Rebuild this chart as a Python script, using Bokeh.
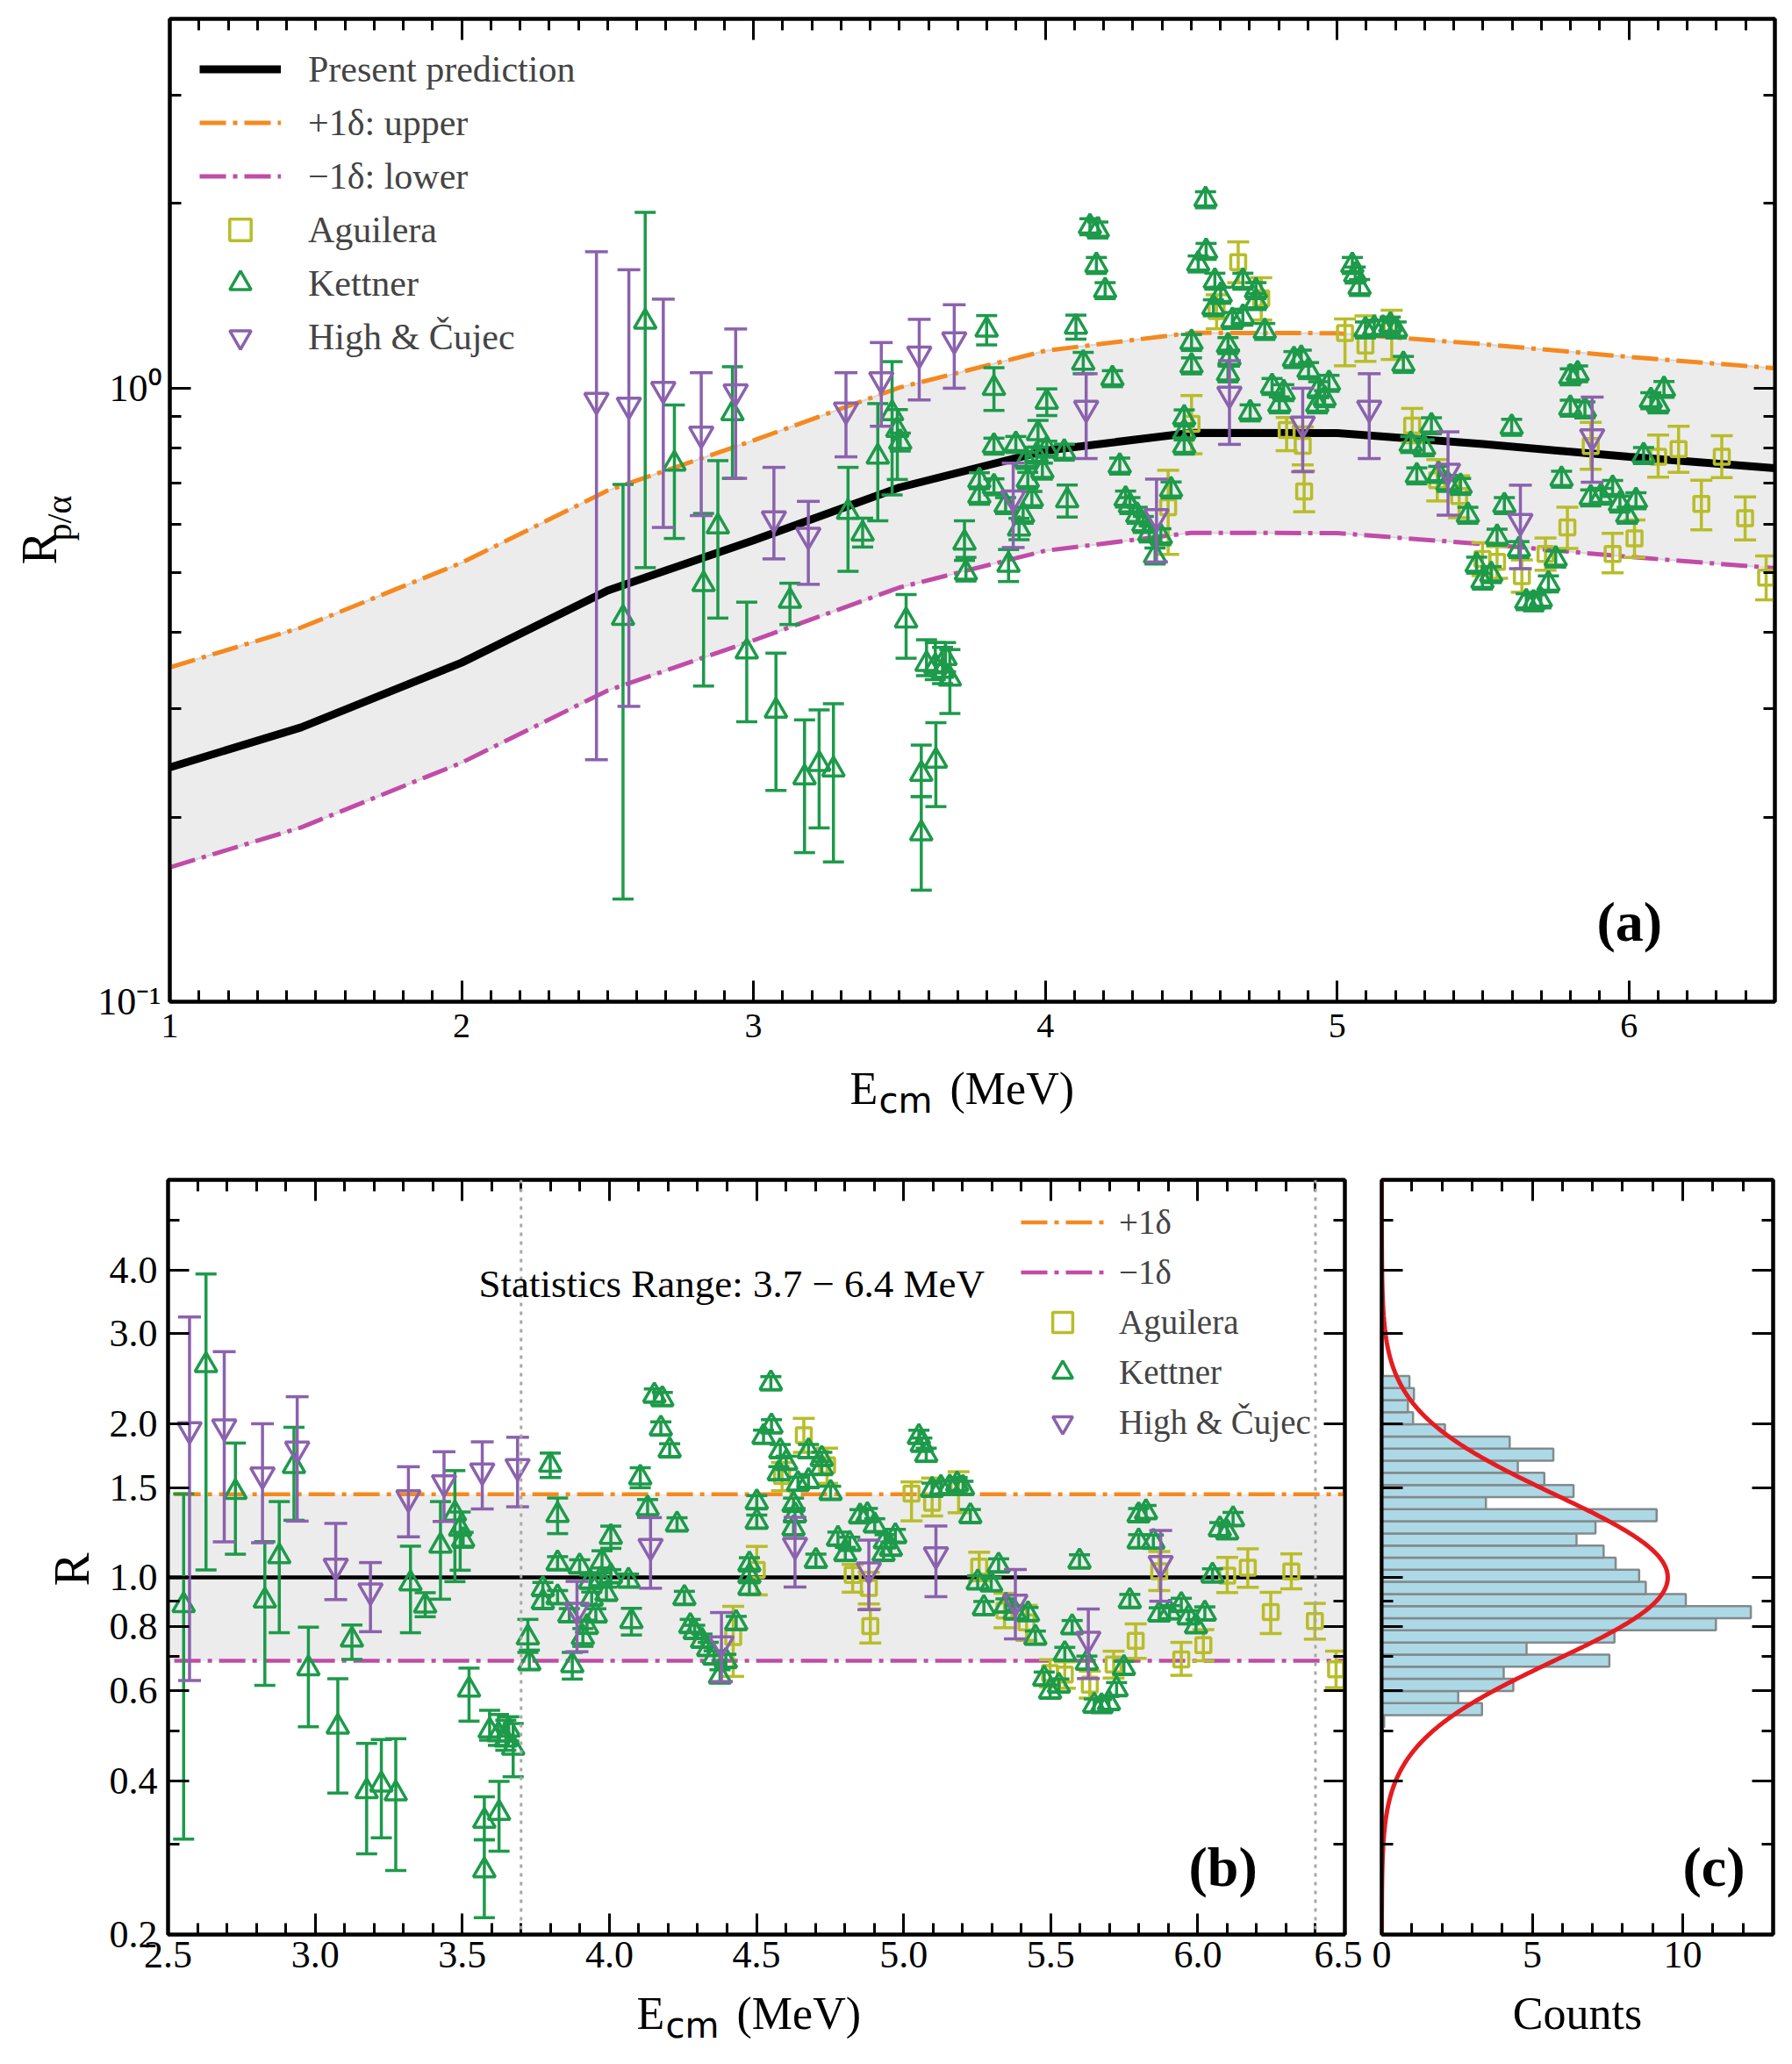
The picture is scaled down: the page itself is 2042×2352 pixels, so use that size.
import numpy as np
from bokeh.plotting import figure
from bokeh.models import (ColumnDataSource, Legend, LegendItem, Label, FixedTicker,
                          LinearAxis, LogAxis, Range1d, PrintfTickFormatter, Span,
                          CustomJSTickFormatter)
from bokeh.layouts import column, row
from bokeh.embed import file_html
from bokeh.resources import INLINE

SERIF = "Liberation Serif"
SANS = "DejaVu Sans"

# ---------------- data ----------------
# present prediction (R_p/alpha) nodes
pred_x = [1.0, 1.45, 2.0, 2.5, 3.0, 3.5, 4.0, 4.5, 5.0, 5.5, 6.0, 6.5]
pred_y = [0.241, 0.280, 0.357, 0.468, 0.565, 0.689, 0.791, 0.846, 0.845, 0.811, 0.773, 0.741]
DELTA_UP = 1.455
DELTA_LO = 0.687

# Aguilera
agu_x = [4.421, 4.501, 4.587, 4.661, 4.740, 4.827, 4.882, 4.887, 5.027, 5.097, 5.187, 5.257, 5.343, 5.418,
         5.498, 5.548, 5.633, 5.714, 5.789, 5.869, 5.944, 6.019, 6.100, 6.170, 6.248, 6.318, 6.398, 6.470]
agu_y = [0.640, 0.875, 1.336, 1.605, 1.401, 0.855, 0.806, 0.679, 1.230, 1.174, 1.253, 0.869, 0.708, 0.667,
         0.527, 0.521, 0.494, 0.537, 0.593, 0.805, 0.537, 0.569, 0.773, 0.796, 0.648, 0.773, 0.614, 0.491]
agu_lo = [0.536, 0.782, 1.250, 1.486, 1.292, 0.791, 0.750, 0.629, 1.088, 1.106, 1.114, 0.815, 0.655, 0.615,
          0.495, 0.490, 0.465, 0.505, 0.548, 0.738, 0.500, 0.530, 0.716, 0.729, 0.588, 0.715, 0.566, 0.452]
agu_hi = [0.735, 0.973, 1.420, 1.732, 1.514, 0.896, 0.865, 0.733, 1.297, 1.312, 1.340, 0.927, 0.765, 0.720,
          0.560, 0.552, 0.525, 0.570, 0.640, 0.880, 0.580, 0.610, 0.839, 0.867, 0.708, 0.837, 0.665, 0.533]

# Kettner, low energy part (explicit error limits)
ketA_x = [2.553, 2.629, 2.729, 2.829, 2.878, 2.928, 2.977, 3.077, 3.125, 3.175, 3.225, 3.274, 3.324, 3.374,
          3.426, 3.475, 3.493, 3.503, 3.523, 3.575, 3.575, 3.593, 3.623, 3.625, 3.648, 3.658, 3.673, 3.723, 3.728]
ketA_y = [0.422, 1.283, 0.753, 0.479, 0.595, 0.910, 0.372, 0.298, 0.450, 0.232, 0.244, 0.239, 0.628, 0.579,
          0.773, 0.910, 0.855, 0.817, 0.418, 0.235, 0.188, 0.355, 0.352, 0.247, 0.346, 0.363, 0.336, 0.560, 0.500]
ketA_lo = [0.147, 0.510, 0.569, 0.327, 0.422, 0.713, 0.286, 0.221, 0.412, 0.175, 0.192, 0.169, 0.503, 0.551,
           0.608, 0.670, 0.710, 0.790, 0.363, 0.216, 0.152, 0.340, 0.335, 0.208, 0.330, 0.345, 0.295, 0.524, 0.485]
ketA_hi = [0.697, 1.935, 0.939, 0.625, 0.762, 1.084, 0.448, 0.370, 0.481, 0.288, 0.299, 0.306, 0.743, 0.614,
           0.944, 1.105, 0.923, 0.845, 0.461, 0.262, 0.216, 0.389, 0.385, 0.285, 0.378, 0.385, 0.375, 0.608, 0.530]

# Kettner, high energy part (relative error)
ketB_x = [3.774, 3.774, 3.799, 3.824, 3.824, 3.824, 3.864, 3.874, 3.899, 3.910, 3.924, 3.934, 3.940, 3.954,
          3.970, 3.975, 3.990, 4.005, 4.005, 4.065, 4.075, 4.105, 4.130, 4.153, 4.175, 4.180, 4.205, 4.230,
          4.255, 4.275, 4.290, 4.315, 4.336, 4.356, 4.376, 4.396, 4.431, 4.476, 4.476, 4.476, 4.501, 4.501,
          4.524, 4.549, 4.551, 4.576, 4.581, 4.601, 4.626, 4.626, 4.631, 4.641, 4.677, 4.677, 4.702, 4.722,
          4.722, 4.752, 4.777, 4.802, 4.817, 4.852, 4.877, 4.902, 4.932, 4.937, 4.957, 4.972, 5.052, 5.062,
          5.077, 5.097, 5.127, 5.157, 5.182, 5.202, 5.227, 5.252, 5.273, 5.298, 5.323, 5.348, 5.378, 5.423,
          5.448, 5.478, 5.498, 5.528, 5.548, 5.573, 5.598, 5.623, 5.648, 5.673, 5.698, 5.724, 5.749, 5.769,
          5.799, 5.799, 5.824, 5.849, 5.869, 5.904, 5.944, 5.969, 5.994, 6.024, 6.050, 6.075, 6.100, 6.120]
ketB_y = [0.707, 0.667, 1.245, 1.000, 0.805, 0.691, 0.644, 0.515, 0.810, 0.590, 0.621, 0.763, 0.708, 0.659,
          0.778, 0.844, 0.733, 0.950, 0.796, 0.787, 0.656, 1.259, 1.100, 1.834, 1.586, 1.812, 1.443, 1.037,
          0.747, 0.660, 0.644, 0.621, 0.600, 0.579, 0.533, 0.573, 0.683, 0.895, 0.849, 0.805, 1.188, 1.088,
          1.595, 2.030, 1.672, 1.353, 1.495, 1.418, 1.174, 1.056, 1.120, 1.290, 1.495, 1.306, 0.912, 1.443,
          1.385, 1.238, 1.007, 0.940, 0.984, 1.114, 1.120, 1.069, 0.940, 0.995, 0.962, 1.019, 1.586, 1.530,
          1.460, 1.245, 1.253, 1.253, 1.268, 1.245, 1.094, 0.810, 0.720, 0.800, 0.869, 0.724, 0.700, 0.692,
          0.621, 0.515, 0.485, 0.497, 0.572, 0.644, 0.864, 0.546, 0.449, 0.447, 0.452, 0.480, 0.527, 0.711,
          1.044, 0.928, 1.056, 0.922, 0.663, 0.667, 0.687, 0.648, 0.621, 0.656, 0.777, 0.955, 0.940, 0.996]
ketB_err = [0.03, 0.03, 0.055, 0.08, 0.03, 0.03, 0.03, 0.06, 0.03, 0.04, 0.03, 0.03, 0.03, 0.03,
            0.03, 0.05, 0.03, 0.05, 0.03, 0.03, 0.06, 0.045, 0.04] + [0.03] * 89

# High & Cujec
hc_x = [2.462, 2.573, 2.691, 2.821, 2.939, 3.070, 3.188, 3.317, 3.438, 3.568, 3.688, 3.890, 4.140, 4.381,
        4.631, 4.882, 5.110, 5.380, 5.628, 5.874]
hc_y = [0.956, 0.939, 0.996, 0.842, 0.987, 0.613, 0.576, 0.922, 1.033, 1.137, 1.200, 0.663, 0.928, 0.618,
        0.978, 0.875, 0.928, 0.733, 0.607, 0.834]
hc_lo = [0.248, 0.303, 0.593, 0.620, 0.713, 0.527, 0.479, 0.773, 0.867, 0.957, 1.000, 0.550, 0.768, 0.521,
         0.810, 0.731, 0.768, 0.621, 0.508, 0.703]
hc_hi = [1.669, 1.560, 1.397, 1.060, 1.249, 0.743, 0.654, 1.060, 1.187, 1.295, 1.368, 0.755, 1.056, 0.711,
         1.109, 1.000, 1.056, 0.849, 0.695, 0.967]

# histogram of R (bins from low R to high R, log-spaced)
hist_counts = [0.08, 3.33, 2.54, 4.37, 4.05, 7.56, 4.81, 7.73, 11.1, 12.26, 10.1, 8.77, 8.55, 7.77, 7.37,
               6.47, 7.1, 9.13, 3.46, 6.37, 5.4, 4.52, 5.7, 4.25, 2.1, 1.04, 0.87, 1.07, 0.92]
HIST_R_MIN, HIST_R_MAX = 0.509, 2.48
GAUSS_AMP, GAUSS_MU, GAUSS_SIGMA = 9.5, 0.0, 0.162   # gaussian in log10(R)

STATS_RANGE = (3.7, 6.4)

# tick labels
xa_ticks = [1, 2, 3, 4, 5, 6]
ya_ticks = [0.1, 1.0]
ya_labels = {0.1: "10\u207b\u00b9", 1.0: "10\u2070"}
xb_ticks = [2.5, 3.0, 3.5, 4.0, 4.5, 5.0, 5.5, 6.0, 6.5]
yb_ticks = [0.2, 0.4, 0.6, 0.8, 1.0, 1.5, 2.0, 3.0, 4.0]
yb_minor = [0.3, 0.5, 0.7, 0.9, 5.0]
xc_ticks = [0, 5, 10]

# colors
C_AGU = "#b8bd2a"
C_KET = "#1d9a4a"
C_HC = "#8b62ad"
C_UP = "#f5891f"
C_LO = "#c04ca7"
C_BAND = "#ececec"
DASHDOT = "30 8 5 8"

# ---------------- helpers ----------------
def style_axis(ax, labels=True, size="40px", standoff=12):
    ax.axis_line_color = "black"
    ax.axis_line_width = 4
    ax.major_tick_in = 24
    ax.major_tick_out = 0
    ax.minor_tick_in = 13
    ax.minor_tick_out = 0
    ax.major_tick_line_width = 3
    ax.minor_tick_line_width = 3
    ax.major_label_text_font = SERIF
    ax.major_label_text_color = "black"
    if labels:
        ax.major_label_text_font_size = size
        ax.major_label_standoff = standoff
    else:
        ax.formatter = CustomJSTickFormatter(code="return ''")
        ax.major_label_text_font_size = "2px"
        ax.major_label_standoff = 0


def base_fig(**kw):
    p = figure(output_backend="svg", toolbar_location=None, **kw)
    p.xgrid.visible = False
    p.ygrid.visible = False
    p.outline_line_color = "black"
    p.outline_line_width = 4
    p.background_fill_color = "white"
    p.border_fill_color = "white"
    return p


def strip(w, h):
    # an axis-less area that only holds axis titles
    s = figure(width=w, height=h, x_range=Range1d(0, 1), y_range=Range1d(0, 1), min_border=0,
               output_backend="svg", toolbar_location=None, x_axis_location=None,
               y_axis_location=None, outline_line_color=None)
    s.grid.visible = False
    s.background_fill_color = "white"
    s.border_fill_color = "white"
    return s


def errorbar(p, x, y, lo, hi, color, marker, msize, cap):
    src = ColumnDataSource(dict(x=list(x), y=list(y), lo=list(lo), hi=list(hi)))
    p.segment(x0="x", y0="lo", x1="x", y1="hi", source=src, line_color=color, line_width=3.5)
    p.scatter(x="x", y="lo", source=src, marker="dash", size=cap, line_color=color, line_width=3.5)
    p.scatter(x="x", y="hi", source=src, marker="dash", size=cap, line_color=color, line_width=3.5)
    return p.scatter(x="x", y="y", source=src, marker=marker, size=msize, line_color=color,
                     fill_color=None, line_width=3.5)


def txt(p, x, y, text, size, font=SERIF, angle=0.0, style="normal", align="left",
        baseline="alphabetic"):
    p.add_layout(Label(x=x, y=y, x_units="screen", y_units="screen", text=text, text_font=font,
                       text_font_size=size, text_font_style=style, text_align=align,
                       text_baseline=baseline, angle=float(angle), text_color="black"))


# assemble datasets
ket_x = ketA_x + ketB_x
ket_y = ketA_y + ketB_y
ket_lo = ketA_lo + [v * (1 - e) for v, e in zip(ketB_y, ketB_err)]
ket_hi = ketA_hi + [v * (1 + e) for v, e in zip(ketB_y, ketB_err)]

pred_x_a = np.array(pred_x)
pred_y_a = np.array(pred_y)
upper_y = [float(v) for v in pred_y_a * DELTA_UP]
lower_y = [float(v) for v in pred_y_a * DELTA_LO]

# ---------------- panel (a) ----------------
pa = base_fig(frame_width=1829, frame_height=1120, x_range=Range1d(1, 6.5), y_range=Range1d(0.1, 4.0),
              y_axis_type="log", min_border_left=83, min_border_right=14, min_border_top=21,
              min_border_bottom=62)
xa_t = FixedTicker(ticks=xa_ticks, minor_ticks=[round(1 + 0.1 * i, 1) for i in range(56) if i % 10])
ya_t = FixedTicker(ticks=ya_ticks, minor_ticks=[0.2, 0.3, 0.4, 0.5, 0.6, 0.7, 0.8, 0.9, 2.0, 3.0, 4.0])
pa.xaxis.ticker = xa_t
pa.yaxis.ticker = ya_t
pa.yaxis.major_label_overrides = ya_labels
style_axis(pa.xaxis[0], size="40px", standoff=14)
style_axis(pa.yaxis[0], size="44px", standoff=10)
ax_top = LinearAxis(ticker=xa_t)
style_axis(ax_top, labels=False)
pa.add_layout(ax_top, "above")
ax_right = LogAxis(ticker=ya_t)
style_axis(ax_right, labels=False)
pa.add_layout(ax_right, "right")

pa.varea(x=pred_x, y1=lower_y, y2=upper_y, fill_color=C_BAND)
pa.line(pred_x, upper_y, line_color="#d8d8d8", line_width=2)
pa.line(pred_x, lower_y, line_color="#d8d8d8", line_width=2)
r_up = pa.line(pred_x, upper_y, line_color=C_UP, line_width=5, line_dash=DASHDOT)
r_lo = pa.line(pred_x, lower_y, line_color=C_LO, line_width=5, line_dash=DASHDOT)
r_pred = pa.line(pred_x, pred_y, line_color="black", line_width=9)

r_agu = errorbar(pa, agu_x, agu_y, agu_lo, agu_hi, C_AGU, "square", 17, 25)
r_ket = errorbar(pa, ket_x, ket_y, ket_lo, ket_hi, C_KET, "triangle", 25, 24)
r_hc = errorbar(pa, hc_x, hc_y, hc_lo, hc_hi, C_HC, "inverted_triangle", 27, 26)

leg_a = Legend(items=[
    LegendItem(label="Present prediction", renderers=[r_pred]),
    LegendItem(label="+1\u03b4: upper", renderers=[r_up]),
    LegendItem(label="\u22121\u03b4: lower", renderers=[r_lo]),
    LegendItem(label="Aguilera", renderers=[r_agu]),
    LegendItem(label="Kettner", renderers=[r_ket]),
    LegendItem(label="High & \u010cujec", renderers=[r_hc]),
], location=(34, 727), background_fill_alpha=0, border_line_alpha=0, label_text_font=SERIF,
    label_text_font_size="42px", glyph_width=93, glyph_height=61, label_height=61, spacing=0,
    padding=0, margin=0, label_standoff=31)
pa.add_layout(leg_a)
txt(pa, 1626, 91, "(a)", "64px", style="bold")

# strips holding the axis titles of panel (a)
ylab_a = strip(108, 1203)
txt(ylab_a, 44, 517, "R", "57px", angle=np.pi / 2, align="center", baseline="middle")
txt(ylab_a, 67, 551, "p/\u03b1", "40px", angle=np.pi / 2, align="center", baseline="middle")
xlab_a = strip(2034, 87)
txt(xlab_a, 968, 50, "E", "52px", baseline="middle")
txt(xlab_a, 1001, 37, "cm", "40px", font=SANS, baseline="middle")
txt(xlab_a, 1082, 50, "(MeV)", "52px", baseline="middle")

# ---------------- panel (b) ----------------
XB = (2.5, 6.5)
yr_b = Range1d(0.2, 6.0)
pb = base_fig(frame_width=1341, frame_height=860, x_range=Range1d(*XB), y_range=yr_b,
              y_axis_type="log", min_border_left=71, min_border_right=20, min_border_top=54,
              min_border_bottom=58)
xb_t = FixedTicker(ticks=xb_ticks, minor_ticks=[round(2.5 + 0.1 * i, 1) for i in range(41) if i % 5])
yb_t = FixedTicker(ticks=yb_ticks, minor_ticks=yb_minor)
pb.xaxis.ticker = xb_t
pb.yaxis.ticker = yb_t
pb.xaxis.formatter = PrintfTickFormatter(format="%.1f")
pb.yaxis.formatter = PrintfTickFormatter(format="%.1f")
style_axis(pb.xaxis[0], size="44px", standoff=8)
style_axis(pb.yaxis[0], size="44px", standoff=12)
bt = LinearAxis(ticker=xb_t)
style_axis(bt, labels=False)
pb.add_layout(bt, "above")
br = LogAxis(ticker=yb_t)
style_axis(br, labels=False)
pb.add_layout(br, "right")

ones = [float(v) for v in pred_y_a / pred_y_a]
pb.varea(x=pred_x, y1=[DELTA_LO] * len(pred_x), y2=[DELTA_UP] * len(pred_x), fill_color=C_BAND)
rb_up = pb.line(pred_x, [DELTA_UP] * len(pred_x), line_color=C_UP, line_width=4.5, line_dash=DASHDOT)
rb_lo = pb.line(pred_x, [DELTA_LO] * len(pred_x), line_color=C_LO, line_width=4.5, line_dash=DASHDOT)
pb.line(pred_x, ones, line_color="black", line_width=4.5)
for loc in STATS_RANGE:
    pb.add_layout(Span(location=loc, dimension="height", line_color="#a8a8a8", line_width=3,
                       line_dash="4 6"))


def ratio(x, y, lo, hi):
    x = np.array(x); y = np.array(y); lo = np.array(lo); hi = np.array(hi)
    m = (x >= XB[0]) & (x <= XB[1])
    pr = np.interp(x[m], pred_x_a, pred_y_a)
    return ([float(v) for v in x[m]], [float(v) for v in y[m] / pr],
            [float(v) for v in lo[m] / pr], [float(v) for v in hi[m] / pr])


rb_agu = errorbar(pb, *ratio(agu_x, agu_y, agu_lo, agu_hi), C_AGU, "square", 17, 25)
rb_ket = errorbar(pb, *ratio(ket_x, ket_y, ket_lo, ket_hi), C_KET, "triangle", 25, 24)
rb_hc = errorbar(pb, *ratio(hc_x, hc_y, hc_lo, hc_hi), C_HC, "inverted_triangle", 27, 26)

leg_b = Legend(items=[
    LegendItem(label="+1\u03b4", renderers=[rb_up]),
    LegendItem(label="\u22121\u03b4", renderers=[rb_lo]),
    LegendItem(label="Aguilera", renderers=[rb_agu]),
    LegendItem(label="Kettner", renderers=[rb_ket]),
    LegendItem(label="High & \u010cujec", renderers=[rb_hc]),
], location=(972, 555), background_fill_alpha=0, border_line_alpha=0, label_text_font=SERIF,
    label_text_font_size="39px", glyph_width=95, glyph_height=57, label_height=57, spacing=0,
    padding=0, margin=0, label_standoff=17)
pb.add_layout(leg_b)

txt(pb, 354, 742, "Statistics Range: %.1f \u2212 %.1f MeV" % STATS_RANGE, "45px")
txt(pb, 1163, 77, "(b)", "64px", style="bold")

# ---------------- panel (c) ----------------
pc = base_fig(frame_width=446, frame_height=860, x_range=Range1d(0, 13), y_range=yr_b,
              y_axis_type="log", min_border_left=22, min_border_right=14, min_border_top=54,
              min_border_bottom=58)
xc_t = FixedTicker(ticks=xc_ticks, minor_ticks=[i for i in range(1, 13) if i % 5])
pc.xaxis.ticker = xc_t
pc.yaxis.ticker = yb_t
style_axis(pc.xaxis[0], size="44px", standoff=8)
style_axis(pc.yaxis[0], labels=False)
ct = LinearAxis(ticker=xc_t)
style_axis(ct, labels=False)
pc.add_layout(ct, "above")
cr = LogAxis(ticker=yb_t)
style_axis(cr, labels=False)
pc.add_layout(cr, "right")

edges = np.geomspace(HIST_R_MIN, HIST_R_MAX, len(hist_counts) + 1)
hsrc = ColumnDataSource(dict(right=hist_counts, bottom=[float(v) for v in edges[:-1]],
                             top=[float(v) for v in edges[1:]], left=[0] * len(hist_counts)))
pc.quad(left="left", right="right", bottom="bottom", top="top", source=hsrc, fill_color="#add8e6",
        line_color="#828a8c", line_width=2.5)
gR = np.geomspace(yr_b.start, yr_b.end, 400)
gC = GAUSS_AMP * np.exp(-0.5 * ((np.log10(gR) - GAUSS_MU) / GAUSS_SIGMA) ** 2)
pc.line([float(v) for v in gC], [float(v) for v in gR], line_color="#e51c20", line_width=5)
txt(pc, 343, 77, "(c)", "64px", style="bold")

# strips holding the axis titles of panels (b) and (c)
ylab_b = strip(120, 972)
txt(ylab_b, 81, 416, "R", "57px", angle=np.pi / 2, align="center", baseline="middle")
xlab_bc = strip(2034, 88)
txt(xlab_bc, 725, 56, "E", "52px", baseline="middle")
txt(xlab_bc, 758, 43, "cm", "40px", font=SANS, baseline="middle")
txt(xlab_bc, 839, 56, "(MeV)", "52px", baseline="middle")
txt(xlab_bc, 1797, 56, "Counts", "52px", align="center", baseline="middle")

layout = column(row(ylab_a, pa), xlab_a, row(ylab_b, pb, pc), xlab_bc)
open("out.html", "w").write(file_html(layout, INLINE))
